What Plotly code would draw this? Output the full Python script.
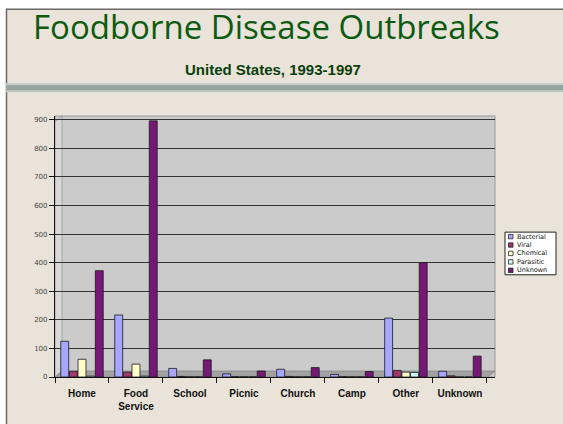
import plotly.graph_objects as go

# ---------------- data ----------------
categories = ["Home", "Food<br>Service", "School", "Picnic", "Church", "Camp", "Other", "Unknown"]
series_names = ["Bacterial", "Viral", "Chemical", "Parasitic", "Unknown"]
bacterial = [125, 217, 30, 11, 27, 9, 206, 20]
viral = [20, 17, 2, 1, 2, 1, 23, 4]
chemical = [62, 45, 1, 1, 1, 1, 17, 0]
parasitic = [3, 3, 1, 1, 1, 1, 16, 0]
unknown = [372, 896, 60, 21, 33, 19, 400, 73]
y_ticks = [0, 100, 200, 300, 400, 500, 600, 700, 800, 900]

series_values = [bacterial, viral, chemical, parasitic, unknown]
colors = ["#a6a6ff", "#a3376b", "#ffffcc", "#ccffff", "#761876"]

W, H = 563, 424
L, R, T, B = 55, 68, 116, 45
PW, PH = W - L - R, H - T - B


def px(x):
    return (x - L) / PW


def py(y):
    return (H - B - y) / PH


fig = go.Figure()
for name, vals, col in zip(series_names, series_values, colors):
    fig.add_trace(go.Bar(
        x=categories, y=vals, name=name,
        marker=dict(color=col, line=dict(color="#1a1a1a", width=0.8)),
        showlegend=False,
    ))

shapes = []
# white outside strips and slide border
shapes.append(dict(type="rect", xref="paper", yref="paper", x0=px(-5), x1=px(W + 5), y0=py(8), y1=py(-5),
                   fillcolor="white", line=dict(width=0), layer="below"))
shapes.append(dict(type="rect", xref="paper", yref="paper", x0=px(-5), x1=px(6), y0=py(H + 5), y1=py(-5),
                   fillcolor="white", line=dict(width=0), layer="below"))
shapes.append(dict(type="line", xref="paper", yref="paper", x0=px(6), x1=px(W + 5), y0=py(8.5), y1=py(8.5),
                   line=dict(color="#6a6a6a", width=1.5), layer="below"))
shapes.append(dict(type="line", xref="paper", yref="paper", x0=px(6.5), x1=px(6.5), y0=py(8), y1=py(H + 5),
                   line=dict(color="#6a6a6a", width=1.5), layer="below"))
# decorative band under subtitle
shapes.append(dict(type="rect", xref="paper", yref="paper", x0=px(6), x1=px(W + 5), y0=py(92), y1=py(83),
                   fillcolor="#c2c8c3", line=dict(width=0), layer="below"))
shapes.append(dict(type="rect", xref="paper", yref="paper", x0=px(6), x1=px(W + 5), y0=py(90), y1=py(85),
                   fillcolor="#98a49f", line=dict(width=0), layer="below"))
# plot walls
shapes.append(dict(type="rect", xref="paper", yref="paper", x0=0, x1=1, y0=0, y1=1,
                   fillcolor="#cbcbcb", line=dict(color="#9a9a9a", width=1), layer="below"))
shapes.append(dict(type="path", xref="paper", yref="paper",
                   path=f"M {px(55)},{py(379)} L {px(62)},{py(373)} L {px(62)},{py(116)} L {px(55)},{py(122)} Z",
                   fillcolor="#d8d8d8", line=dict(color="#9a9a9a", width=0.8), layer="below"))
shapes.append(dict(type="path", xref="paper", yref="paper",
                   path=f"M {px(55)},{py(379)} L {px(62)},{py(373)} L {px(495)},{py(373)} L {px(488)},{py(379)} Z",
                   fillcolor="#a2a2a2", line=dict(color="#888888", width=0.8), layer="below"))

# legend box (custom, compact)
lx0, ly0, lx1, ly1 = 505, 233, 556, 276
shapes.append(dict(type="rect", xref="paper", yref="paper", x0=px(lx0), x1=px(lx1), y0=py(ly1), y1=py(ly0),
                   fillcolor="white", line=dict(color="#222222", width=1)))
annotations = []
for i, (name, col) in enumerate(zip(series_names, colors)):
    cy = 237.5 + i * 8.5
    shapes.append(dict(type="rect", xref="paper", yref="paper", x0=px(508.5), x1=px(513), y0=py(cy + 2.2),
                       y1=py(cy - 2.2), fillcolor=col, line=dict(color="#222222", width=0.8)))
    annotations.append(dict(text=name, xref="paper", yref="paper", x=px(515), y=py(cy), xanchor="left",
                            yanchor="middle", showarrow=False,
                            font=dict(family="DejaVu Sans", size=6.5, color="#111111")))

# titles
annotations.append(dict(text="Foodborne Disease Outbreaks", xref="paper", yref="paper", x=px(266), y=py(26),
                        xanchor="center", yanchor="middle", showarrow=False,
                        font=dict(family="Open Sans", size=33, color="#0d5a12")))
annotations.append(dict(text="<b>United States, 1993-1997</b>", xref="paper", yref="paper", x=px(273), y=py(69),
                        xanchor="center", yanchor="middle", showarrow=False,
                        font=dict(family="Liberation Sans Narrow, Liberation Sans", size=15, color="#0b3f0e")))

fig.update_layout(
    width=W, height=H,
    margin=dict(l=L, r=R, t=T, b=B, pad=0),
    paper_bgcolor="#e9e3d9",
    plot_bgcolor="rgba(0,0,0,0)",
    barmode="group", bargap=0.2, bargroupgap=0.08,
    shapes=shapes, annotations=annotations,
    showlegend=False,
    xaxis=dict(range=[-0.5, 7.65], showgrid=False, showline=True, linecolor="#111", linewidth=1.2,
               ticks="outside", tickson="boundaries", ticklen=5, tickcolor="#111", tickangle=0,
               ticklabelstandoff=7,
               tickfont=dict(family="Liberation Sans", size=10, color="#111"),
               tickvals=categories, ticktext=[f"<b>{c}</b>" for c in categories]),
    yaxis=dict(range=[0, 913], tickvals=y_ticks, showgrid=True, gridcolor="#333333", gridwidth=1,
               showline=True, linecolor="#111", linewidth=1.2, ticks="outside", ticklen=5, tickcolor="#111",
               tickfont=dict(family="DejaVu Sans", size=7, color="#444"), zeroline=False),
)

fig.write_html("out.html")
